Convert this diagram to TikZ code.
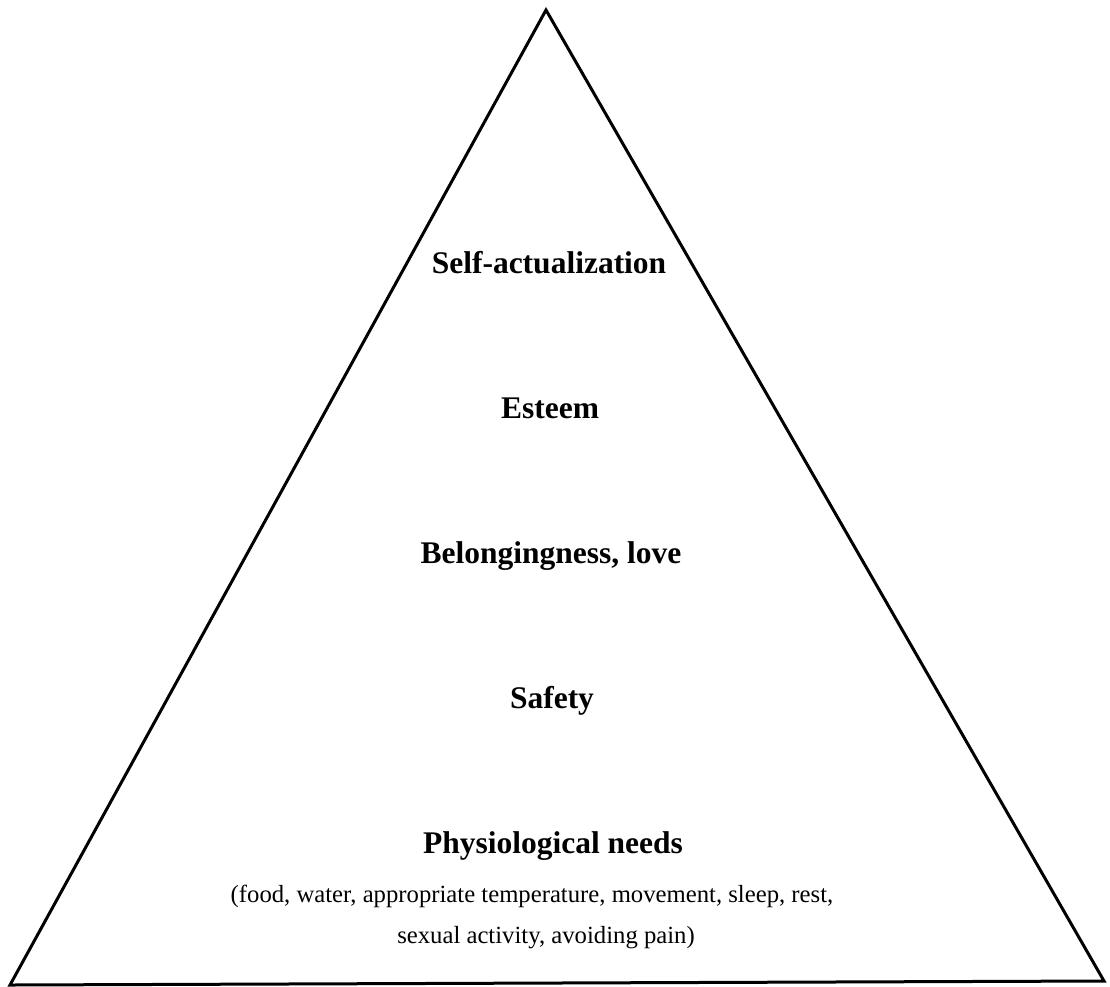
\documentclass[tikz,border=0pt]{standalone}
\usepackage{fontspec}
\setmainfont{Liberation Serif}
\usetikzlibrary{positioning}

\begin{document}
\begin{tikzpicture}[
  x=1pt, y=-1pt,
  level/.style={anchor=base, inner sep=0pt, font=\fontsize{31.5}{36}\selectfont\bfseries},
  note/.style={anchor=base, inner sep=0pt, font=\fontsize{24.7}{30}\selectfont},
  edge/.style={line width=3pt, line join=miter, line cap=round}]
\useasboundingbox (0,0) rectangle (1110,986);
% pyramid outline
\coordinate (top) at (546,10);
\coordinate (left) at (10,985);
\coordinate (right) at (1104,981);
\draw[edge] (top) -- (right) -- (left) -- cycle;
% levels
\node[level] (selfact) at (549,273) {Self-actualization};
\node[level] (esteem) at (550,418) {Esteem};
\node[level] (belong) at (551,563) {Belongingness, love};
\node[level] (safety) at (552,708) {Safety};
\node[level] (physio) at (553,853) {Physiological needs};
\node[note] (needs1) at (532,902) {(food, water, appropriate temperature, movement, sleep, rest,};
\node[note] (needs2) at (546,943) {sexual activity, avoiding pain)};
\end{tikzpicture}
\end{document}
